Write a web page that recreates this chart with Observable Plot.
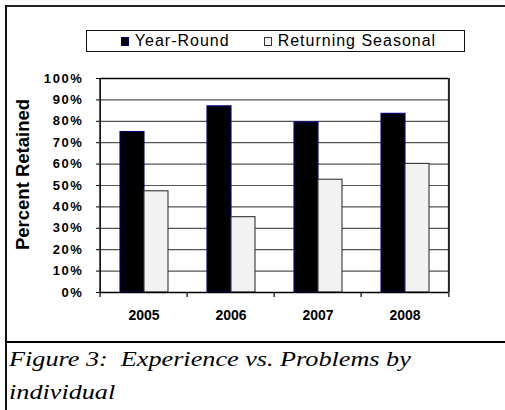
<!DOCTYPE html>
<html>
<head>
<meta charset="utf-8">
<script src="https://cdn.jsdelivr.net/npm/d3@7"></script>
<script src="https://cdn.jsdelivr.net/npm/@observablehq/plot@0.6"></script>
<style>
  html, body { margin: 0; padding: 0; background: #fff; overflow: hidden; }
  #wrap { position: relative; width: 505px; height: 410px; }
  #chart { position: absolute; left: 0; top: 0; }
  #border { position: absolute; left: 5px; top: 5px; width: 520px; height: 420px;
            border-left: 2px solid #111; border-top: 2px solid #222; box-sizing: border-box; }
  #sep { position: absolute; left: 5px; top: 341px; width: 520px; border-top: 2.5px solid #000; }
  #legend { position: absolute; left: 86px; top: 30px; width: 379px; height: 22px; box-sizing: border-box;
            border: 1px solid #111; display: flex; align-items: center; justify-content: center;
            font-family: "Liberation Sans", Arial, sans-serif; font-size: 16px; letter-spacing: 1px; color: #000; gap: 34px; padding-left: 6px; }
  .item { display: flex; align-items: center; gap: 6px; white-space: nowrap; }
  .sw { width: 6px; height: 7px; box-sizing: content-box; }
  #caption { position: absolute; left: 9px; top: 343px; font-family: "Liberation Serif", "Times New Roman", serif;
             font-style: italic; font-size: 20px; line-height: 33px; color: #000; white-space: pre;
             transform: scaleX(1.31); transform-origin: 0 0; }
  g[aria-label="y-axis tick label"] text { letter-spacing: 1.6px; }
</style>
</head>
<body>
<div id="wrap">
  <div id="chart"></div>
  <div id="border"></div>
  <div id="sep"></div>
  <div id="legend"></div>
  <div id="caption"></div>
</div>
<script>
const years = ["2005", "2006", "2007", "2008"];
const series = ["Year-Round", "Returning Seasonal"];
const yearRound = [75, 87, 79.5, 83.5];
const seasonal = [47.3, 35.2, 52.7, 60.1];
const yTicks = [0, 10, 20, 30, 40, 50, 60, 70, 80, 90, 100];
const fills = ["#000000", "#f2f2f2"];
const strokes = ["#000080", "#333333"];
const yTitle = "Percent Retained";
const captionLines = ["Figure 3:  Experience vs. Problems by", "individual"];

const data = years.flatMap((year, i) => [
  {year, series: series[0], value: yearRound[i]},
  {year, series: series[1], value: seasonal[i]}
]);

const W = 505, H = 342, mL = 98, mR = 56, mT = 78, mB = 50;
const step = (W - mL - mR) / years.length;

const chart = Plot.plot({
  width: W, height: H,
  marginTop: mT, marginBottom: mB, marginLeft: mL, marginRight: mR,
  style: {fontFamily: "'Liberation Sans', Arial, sans-serif", background: "transparent", color: "#000", overflow: "visible"},
  fx: {domain: years, padding: 0, label: null},
  x: {domain: series, paddingInner: 0, paddingOuter: 0.755, axis: null},
  y: {domain: [0, 100], axis: null},
  color: {domain: series, range: fills},
  marks: [
    Plot.ruleY(yTicks.slice(1, -1), {stroke: "#555", strokeWidth: 1.2}),
    Plot.barY(data, {fx: "year", x: "series", y: "value", fill: "series",
      stroke: d => strokes[series.indexOf(d.series)], strokeWidth: 1.1}),
    Plot.ruleY([100], {stroke: "#000", strokeWidth: 1.6}),
    Plot.ruleY([0], {stroke: "#000", strokeWidth: 1.4}),
    Plot.ruleX([years[0]], {fx: d => d, x: null, dx: -step / 2, stroke: "#000", strokeWidth: 1.6}),
    Plot.ruleX([years[years.length - 1]], {fx: d => d, x: null, dx: step / 2, stroke: "#222", strokeWidth: 2}),
    Plot.ruleX(years, {fx: d => d, x: null, y1: 0, insetBottom: -5, dx: -step / 2, stroke: "#000", strokeWidth: 1.2}),
    Plot.ruleX([years[years.length - 1]], {fx: d => d, x: null, y1: 0, insetBottom: -5, dx: step / 2, stroke: "#000", strokeWidth: 1.2}),
    Plot.axisY({ticks: yTicks, tickFormat: d => d + "%", tickSize: 4, tickPadding: 13,
      fontWeight: "bold", fontSize: 13, label: null, stroke: "#000"}),
    Plot.axisFx({anchor: "bottom", tickSize: 0, tickPadding: 18, fontWeight: "bold", fontSize: 14, label: null}),
    Plot.text([{year: years[0], t: yTitle}], {fx: "year", text: "t", frameAnchor: "left", textAnchor: "middle",
      rotate: -90, dx: -77, dy: -11, fontSize: 18.5, fontWeight: "bold", fill: "#000"})
  ]
});
document.getElementById("chart").appendChild(chart);

const legend = document.getElementById("legend");
series.forEach((s, i) => {
  const item = document.createElement("div");
  item.className = "item";
  const sw = document.createElement("span");
  sw.className = "sw";
  sw.style.background = fills[i];
  sw.style.border = "1px solid " + strokes[i];
  const t = document.createElement("span");
  t.textContent = s;
  item.appendChild(sw);
  item.appendChild(t);
  legend.appendChild(item);
});

document.getElementById("caption").textContent = captionLines.join("\n");
</script>
</body>
</html>
